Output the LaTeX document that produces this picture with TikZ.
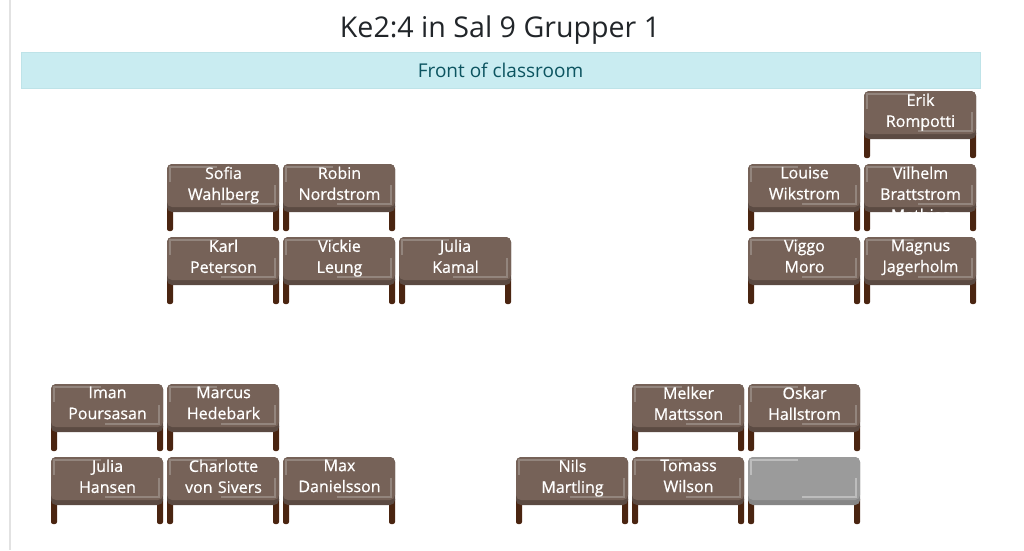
\documentclass[tikz,border=0pt]{standalone}
\usepackage{fontspec}
\setmainfont{Open Sans}
\newfontfamily\deskfont[FakeBold=0.7]{Open Sans}
\definecolor{occtop}{HTML}{766258}
\definecolor{occband}{HTML}{5B4A42}
\definecolor{occshine}{HTML}{93857D}
\definecolor{freetop}{HTML}{9B9B9B}
\definecolor{freeband}{HTML}{868686}
\definecolor{freeshine}{HTML}{BDBDBD}
\definecolor{legcol}{HTML}{4A2511}
\definecolor{bannerfill}{HTML}{C9ECF1}
\definecolor{bannerline}{HTML}{BEE3E8}
\definecolor{bannertext}{HTML}{0C5460}
\definecolor{titletext}{HTML}{212529}
\definecolor{pagerule}{HTML}{E2E2E2}
\tikzset{
  deskleg/.style={fill=legcol,rounded corners=2pt},
  deskname/.style={anchor=north,inner sep=0pt,text=white,text width=112pt,align=center,
    font=\deskfont\fontsize{16}{21}\selectfont},
}
% #1 colour set, #2 node name, #3 x, #4 y, #5 text
\newcommand{\desk}[5][occ]{
  \fill[deskleg] (#3,#4+40) rectangle (#3+6,#4+67);
  \fill[deskleg] (#3+106,#4+40) rectangle (#3+112,#4+67);
  \fill[#1band,rounded corners=5pt] (#3,#4) rectangle (#3+112,#4+48);
  \fill[#1top,rounded corners=5pt] (#3,#4) rectangle (#3+112,#4+43);
  \draw[#1shine,line width=2.5pt] (#3+3,#4+18) -- (#3+3,#4+3) -- (#3+50,#4+3);
  \draw[#1shine,line width=2.5pt] (#3+54,#4+40) -- (#3+108,#4+40) -- (#3+108,#4+21);
  \node[deskname] (#2) at (#3+56.5,#4+2.5) {#5};
}
\begin{document}
\begin{tikzpicture}[x=1pt,y=-1pt]
  \useasboundingbox (0,0) rectangle (1024,550);
  \fill[white] (0,0) rectangle (1024,550);
  \fill[pagerule] (8.5,0) rectangle (10.5,550);

  \node[text=titletext,font=\fontsize{28.6}{34}\selectfont] (title) at (500,30) {Ke2:4 in Sal 9 Grupper 1};
  \node[draw=bannerline,fill=bannerfill,minimum width=959pt,minimum height=36pt,inner sep=0pt,
    text=bannertext,font=\fontsize{19}{23}\selectfont] (front) at (500.5,70) {Front of classroom};

  \desk{erik}{864}{91}{Erik\\Rompotti}

  \desk{sofia}{167}{164}{Sofia\\Wahlberg}
  \desk{robin}{283}{164}{Robin\\Nordstrom}
  \desk{louise}{748}{164}{Louise\\Wikstrom}
  \desk{vilhelm}{864}{164}{Vilhelm\\Brattstrom\\Mathias}

  \desk{karl}{167}{237}{Karl\\Peterson}
  \desk{vickie}{283}{237}{Vickie\\Leung}
  \desk{juliak}{399}{237}{Julia\\Kamal}
  \desk{viggo}{748}{237}{Viggo\\Moro}
  \desk{magnus}{864}{237}{Magnus\\Jagerholm}

  \desk{iman}{51}{384}{Iman\\Poursasan}
  \desk{marcus}{167}{384}{Marcus\\Hedebark}
  \desk{melker}{632}{384}{Melker\\Mattsson}
  \desk{oskar}{748}{384}{Oskar\\Hallstrom}

  \desk{juliah}{51}{457}{Julia\\Hansen}
  \desk{charlotte}{167}{457}{Charlotte\\von Sivers}
  \desk{max}{283}{457}{Max\\Danielsson}
  \desk{nils}{516}{457}{Nils\\Martling}
  \desk{tomass}{632}{457}{Tomass\\Wilson}
  \desk[free]{empty}{748}{457}{}
\end{tikzpicture}
\end{document}
